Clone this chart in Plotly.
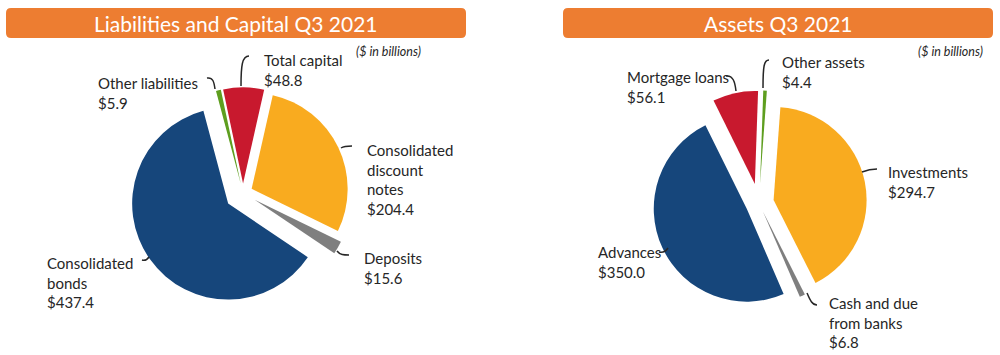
import plotly.graph_objects as go

W, H = 1000, 355

# ---- data ----
liab_labels = ["Consolidated discount notes", "Deposits", "Consolidated bonds", "Other liabilities", "Total capital"]
liab_values = [204.4, 15.6, 437.4, 5.9, 48.8]
liab_colors = ["#F9AB1F", "#7F7F7F", "#16467B", "#5E9E1F", "#C8192E"]
liab_pull = [0.10, 0.14, 0.19, 0.10, 0.10]

asset_labels = ["Investments", "Cash and due from banks", "Advances", "Mortgage loans", "Other assets"]
asset_values = [294.7, 6.8, 350.0, 56.1, 4.4]
asset_colors = ["#F9AB1F", "#7F7F7F", "#16467B", "#C8192E", "#5E9E1F"]
asset_pull = [0.16, 0.10, 0.145, 0.21, 0.21]

titles = ["Liabilities and Capital Q3 2021", "Assets Q3 2021"]
unit_note = "($ in billions)"

FONT = "Lato"
TXT = "#262626"


def px(x):
    return x / W


def py(y):
    return 1 - y / H


def dom(cx, cy, half):
    return dict(x=[px(cx - half), px(cx + half)], y=[py(cy + half), py(cy - half)])


fig = go.Figure()

fig.add_trace(go.Pie(
    labels=liab_labels, values=liab_values, sort=False, direction="clockwise",
    rotation=12.7, pull=liab_pull, textinfo="none",
    marker=dict(colors=liab_colors, line=dict(width=0)),
    domain=dom(243, 193, 96 * (1 + max(liab_pull))), showlegend=False,
))
fig.add_trace(go.Pie(
    labels=asset_labels, values=asset_values, sort=False, direction="clockwise",
    rotation=4.2, pull=asset_pull, textinfo="none",
    marker=dict(colors=asset_colors, line=dict(width=0)),
    domain=dom(759, 203, 93 * (1 + max(asset_pull))), showlegend=False,
))


def rrect(x0, y0, x1, y1, r):
    pts = [
        f"M {px(x0 + r)},{py(y0)}",
        f"L {px(x1 - r)},{py(y0)}",
        f"Q {px(x1)},{py(y0)} {px(x1)},{py(y0 + r)}",
        f"L {px(x1)},{py(y1 - r)}",
        f"Q {px(x1)},{py(y1)} {px(x1 - r)},{py(y1)}",
        f"L {px(x0 + r)},{py(y1)}",
        f"Q {px(x0)},{py(y1)} {px(x0)},{py(y1 - r)}",
        f"L {px(x0)},{py(y0 + r)}",
        f"Q {px(x0)},{py(y0)} {px(x0 + r)},{py(y0)}",
        "Z",
    ]
    return " ".join(pts)


shapes = []
for (x0, x1) in [(6, 466), (563, 993)]:
    shapes.append(dict(type="path", xref="paper", yref="paper", path=rrect(x0, 8, x1, 38, 5),
                       fillcolor="#ED7D31", line=dict(width=0), layer="below"))


def curve(p0, c1, c2, p1):
    return (f"M {px(p0[0])},{py(p0[1])} C {px(c1[0])},{py(c1[1])} "
            f"{px(c2[0])},{py(c2[1])} {px(p1[0])},{py(p1[1])}")


leaders = [
    ((249, 56), (242, 56), (241, 66), (241, 86)),
    ((207, 78), (213, 77), (214, 82), (215, 89)),
    ((341, 148), (344, 146), (347, 146), (352, 146)),
    ((337, 251), (340, 255), (344, 255), (349, 255)),
    ((142, 260), (145, 261), (147, 260), (149, 257)),
    ((726, 76), (733, 75), (735, 82), (736, 91)),
    ((769, 60), (764, 60), (763, 66), (763, 88)),
    ((862, 172), (867, 170), (872, 169), (877, 169)),
    ((659, 252), (663, 253), (666, 251), (668, 248)),
    ((807, 293), (810, 300), (812, 305), (817, 305)),
]
for p in leaders:
    shapes.append(dict(type="path", xref="paper", yref="paper", path=curve(*p),
                       line=dict(color=TXT, width=1.5)))

annotations = []
# titles
for t, cx in zip(titles, [236, 778]):
    annotations.append(dict(text=t, x=px(cx), y=py(23), xref="paper", yref="paper",
                            xanchor="center", yanchor="middle", showarrow=False,
                            font=dict(family=FONT, size=21, color="white")))
# unit notes
for xr in [423, 985]:
    annotations.append(dict(text=f"<i>{unit_note}</i>", x=px(xr), y=py(51), xref="paper", yref="paper",
                            xanchor="right", yanchor="middle", showarrow=False,
                            font=dict(family=FONT, size=12.5, color=TXT)))

label_pos = [
    ("Total capital<br>$48.8", 263, 50),
    ("Other liabilities<br>$5.9", 97, 73),
    ("Consolidated<br>discount<br>notes<br>$204.4", 366, 140),
    ("Deposits<br>$15.6", 363, 248),
    ("Consolidated<br>bonds<br>$437.4", 46, 253),
    ("Mortgage loans<br>$56.1", 626, 67),
    ("Other assets<br>$4.4", 781, 52),
    ("Investments<br>$294.7", 887, 162),
    ("Advances<br>$350.0", 597, 242),
    ("Cash and due<br>from banks<br>$6.8", 828, 293),
]
for text, x, y in label_pos:
    annotations.append(dict(text=text, x=px(x), y=py(y), xref="paper", yref="paper",
                            xanchor="left", yanchor="top", align="left", showarrow=False,
                            borderpad=0, font=dict(family=FONT, size=15, color=TXT)))

fig.update_layout(
    width=W, height=H, margin=dict(l=0, r=0, t=0, b=0),
    paper_bgcolor="white", plot_bgcolor="white",
    shapes=shapes, annotations=annotations,
)

fig.write_html("out.html", config={"displayModeBar": False},
               post_script="document.body.style.margin='0';document.body.style.overflow='hidden';")
